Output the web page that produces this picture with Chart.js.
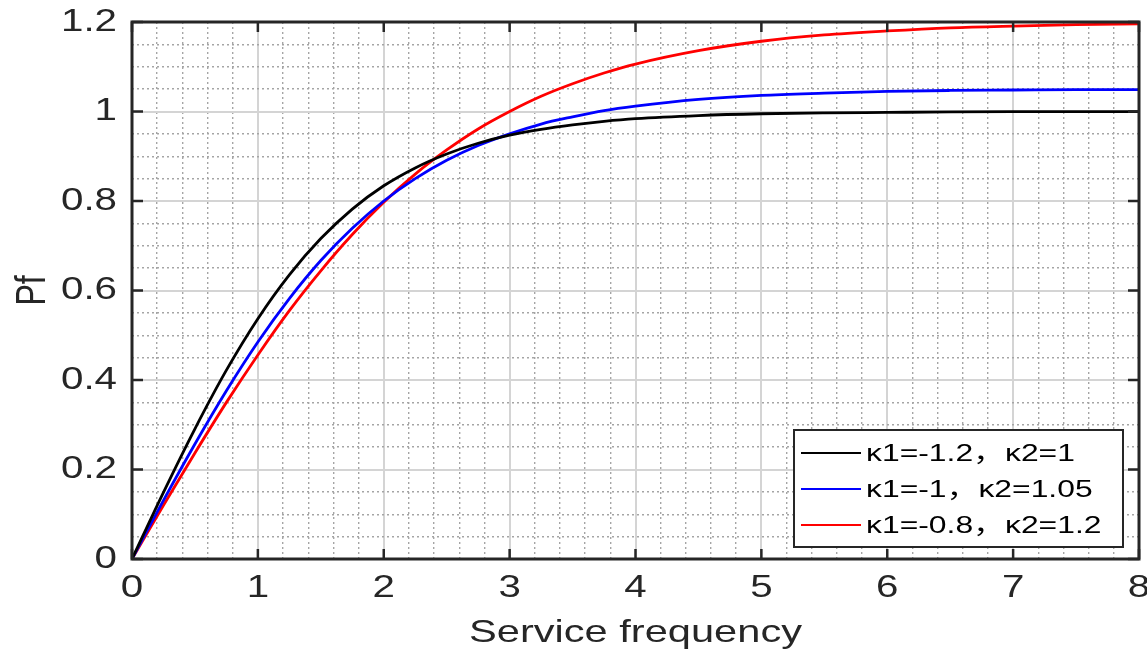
<!DOCTYPE html>
<html>
<head>
<meta charset="utf-8">
<script src="https://cdn.jsdelivr.net/npm/chart.js@4.4.0/dist/chart.umd.min.js"></script>
<style>
  html, body { margin: 0; padding: 0; background: #fff; }
</style>
</head>
<body>
<canvas id="pfChart" width="1147" height="652"></canvas>
<script>
// values
var serviceFreq = [0, 0.25, 0.5, 0.75, 1, 1.25, 1.5, 1.75, 2, 2.25, 2.5, 2.75, 3, 3.25, 3.5, 3.75, 4, 4.5, 5, 5.5, 6, 6.5, 7, 7.5, 8];
var pfBlack = [0, 0.149, 0.291, 0.422, 0.537, 0.635, 0.716, 0.782, 0.834, 0.874, 0.905, 0.929, 0.947, 0.960, 0.970, 0.978, 0.984, 0.991, 0.995, 0.997, 0.998, 0.999, 0.9996, 0.9998, 0.9999];
var pfBlue = [0, 0.131, 0.257, 0.376, 0.485, 0.582, 0.667, 0.739, 0.800, 0.850, 0.891, 0.924, 0.950, 0.972, 0.988, 1.002, 1.012, 1.027, 1.036, 1.041, 1.045, 1.047, 1.048, 1.049, 1.049];
var pfRed = [0, 0.120, 0.237, 0.350, 0.456, 0.555, 0.644, 0.725, 0.797, 0.860, 0.914, 0.961, 1.000, 1.034, 1.062, 1.086, 1.106, 1.136, 1.157, 1.171, 1.180, 1.187, 1.191, 1.194, 1.196];
var seriesLabels = ["κ1=-1.2，κ2=1", "κ1=-1，κ2=1.05", "κ1=-0.8，κ2=1.2"];
var seriesColors = ["#000000", "#0000ff", "#ff0000"];

var FONT = "'Liberation Sans', Arial, 'Noto Sans CJK SC', sans-serif";
var INK = "#262626";
var textStretch = 1.3; // the original figure's text is wide, as if stretched sideways

function toPoints(ys) {
    return serviceFreq.map((x, i) => ({x: x, y: ys[i]}));
}

function notMajor(step) {
    return (ctx) => {
        var v = ctx.tick.value / step;
        return Math.abs(v - Math.round(v)) < 1e-6 ? "rgba(0,0,0,0)" : "#a5a5a5";
    };
}

// widen every piece of text in screen x, about its anchor point
const wideText = {
    id: "wideText",
    beforeInit(chart) {
        const ctx = chart.ctx;
        const orig = ctx.fillText;
        ctx.fillText = function (t, x, y, mw) {
            const m = this.getTransform();
            const p = m.transformPoint(new DOMPoint(x, y));
            this.save();
            this.setTransform(new DOMMatrix().translate(p.x, p.y).scale(textStretch, 1).translate(-p.x, -p.y).multiply(m));
            orig.call(this, t, x, y, mw);
            this.restore();
        };
    }
};

// box round the plot with inward tick marks on all four sides, and the legend
const framePlugin = {
    id: "frame",
    afterDatasetsDraw(chart) {
        const ctx = chart.ctx;
        const a = chart.chartArea;
        const xs = chart.scales.x, ys = chart.scales.y;
        ctx.save();
        ctx.strokeStyle = INK;
        ctx.lineWidth = 2.5;
        ctx.beginPath();
        xs.ticks.forEach((t) => {
            var px = xs.getPixelForValue(t.value);
            ctx.moveTo(px, a.bottom); ctx.lineTo(px, a.bottom - 10);
            ctx.moveTo(px, a.top); ctx.lineTo(px, a.top + 10);
        });
        ys.ticks.forEach((t) => {
            var py = ys.getPixelForValue(t.value);
            ctx.moveTo(a.left, py); ctx.lineTo(a.left + 11, py);
            ctx.moveTo(a.right, py); ctx.lineTo(a.right - 11, py);
        });
        ctx.stroke();
        ctx.lineWidth = 3;
        ctx.strokeRect(a.left, a.top, a.right - a.left, a.bottom - a.top);
        ctx.restore();
    },
    afterDraw(chart) {
        const ctx = chart.ctx;
        const bx = 794, by = 430, bw = 329, bh = 117;
        ctx.save();
        ctx.fillStyle = "#ffffff";
        ctx.fillRect(bx, by, bw, bh);
        ctx.strokeStyle = INK;
        ctx.lineWidth = 2;
        ctx.strokeRect(bx, by, bw, bh);
        ctx.font = "24.5px " + FONT;
        ctx.textBaseline = "middle";
        ctx.textAlign = "left";
        chart.data.datasets.forEach((ds, i) => {
            var rowY = by + 23 + i * 36;
            ctx.strokeStyle = ds.borderColor;
            ctx.lineWidth = 2;
            ctx.beginPath();
            ctx.moveTo(bx + 7, rowY);
            ctx.lineTo(bx + 67, rowY);
            ctx.stroke();
            ctx.fillStyle = "#000";
            ctx.fillText(ds.label, bx + 72, rowY + 1);
        });
        ctx.restore();
    }
};

new Chart(document.getElementById("pfChart"), {
    type: "line",
    data: {
        datasets: [0, 1, 2].map((i) => ({
            label: seriesLabels[i],
            data: toPoints([pfBlack, pfBlue, pfRed][i]),
            borderColor: seriesColors[i],
            borderWidth: 2.8,
            pointRadius: 0,
            cubicInterpolationMode: "monotone",
            fill: false
        }))
    },
    options: {
        responsive: false,
        devicePixelRatio: 1,
        animation: false,
        layout: {padding: {top: 22, right: 8, bottom: 0, left: 0}},
        plugins: {legend: {display: false}, tooltip: {enabled: false}},
        scales: {
            x: {
                type: "linear", position: "bottom", min: 0, max: 8,
                ticks: {stepSize: 1, color: INK, font: {family: FONT, size: 31}, padding: 11},
                grid: {color: "#d4d4d4", lineWidth: 2, drawTicks: false},
                border: {display: false},
                title: {display: true, text: "Service frequency", color: INK, font: {family: FONT, size: 32}, padding: {top: 0, bottom: 0}},
                afterFit: (s) => { s.height = 93; s.paddingLeft = 0; s.paddingRight = 0; }
            },
            xMinor: {
                type: "linear", position: "bottom", min: 0, max: 8,
                ticks: {display: false, stepSize: 0.2, autoSkip: false, maxTicksLimit: 100},
                grid: {color: notMajor(1), lineWidth: 1.4, drawTicks: false},
                border: {display: false, dash: [2, 3]},
                afterFit: (s) => { s.height = 0; s.paddingLeft = 0; s.paddingRight = 0; }
            },
            y: {
                type: "linear", position: "left", min: 0, max: 1.2,
                ticks: {
                    stepSize: 0.2, color: INK, font: {family: FONT, size: 31}, padding: 15,
                    callback: (v) => String(Math.round(v * 10) / 10)
                },
                grid: {color: "#d4d4d4", lineWidth: 2, drawTicks: false},
                border: {display: false},
                title: {display: true, text: "Pf", color: INK, font: {family: FONT, size: 32}, padding: {top: 14, bottom: 0}},
                afterFit: (s) => { s.width = 132; s.paddingTop = 0; s.paddingBottom = 0; }
            },
            yMinor: {
                type: "linear", position: "left", min: 0, max: 1.2,
                ticks: {display: false, stepSize: 0.05, autoSkip: false, maxTicksLimit: 100},
                grid: {color: notMajor(0.2), lineWidth: 1.4, drawTicks: false},
                border: {display: false, dash: [2, 3]},
                afterFit: (s) => { s.width = 0; s.paddingTop = 0; s.paddingBottom = 0; }
            }
        }
    },
    plugins: [wideText, framePlugin]
});
</script>
</body>
</html>
